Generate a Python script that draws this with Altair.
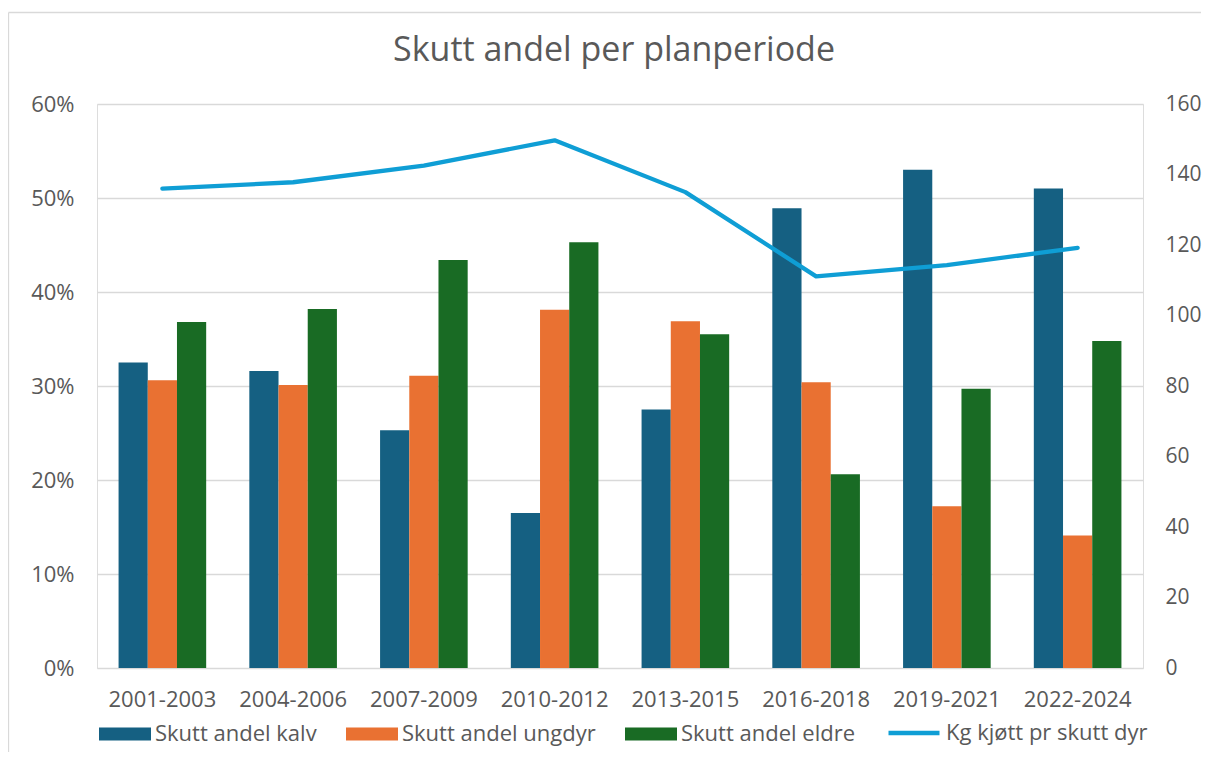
import altair as alt
import pandas as pd

periods = ["2001-2003", "2004-2006", "2007-2009", "2010-2012",
           "2013-2015", "2016-2018", "2019-2021", "2022-2024"]
kalv = [32.5, 31.6, 25.3, 16.5, 27.5, 48.9, 53.0, 51.0]
ungdyr = [30.6, 30.1, 31.1, 38.1, 36.9, 30.4, 17.2, 14.1]
eldre = [36.8, 38.2, 43.4, 45.3, 35.5, 20.6, 29.7, 34.8]
kg_kjott = [136.0, 137.8, 142.5, 149.7, 135.0, 111.1, 114.3, 119.2]

bar_names = ["Skutt andel kalv", "Skutt andel ungdyr", "Skutt andel eldre"]
bar_colors = ["#156082", "#E97132", "#196B24"]
line_name = "Kg kjøtt pr skutt dyr"
line_color = "#0F9ED5"

rows = []
for name, vals in zip(bar_names, [kalv, ungdyr, eldre]):
    for p, v in zip(periods, vals):
        rows.append({"periode": p, "serie": name, "andel": v / 100.0})
bars_df = pd.DataFrame(rows)
line_df = pd.DataFrame({"periode": periods, "kg": kg_kjott, "serie": line_name})

FONT = "Open Sans"
GREY = "#595959"
LBL = 22

x_enc = alt.X(
    "periode:N",
    sort=periods,
    title=None,
    scale=alt.Scale(paddingInner=0.33, paddingOuter=0.165),
    axis=alt.Axis(labelAngle=0, labelFont=FONT, labelFontSize=LBL, labelColor=GREY,
                  labelPadding=21, ticks=False, domain=False, grid=False),
)

bar_legend = alt.Legend(
    title=None, orient="none", legendX=2, legendY=604,
    direction="horizontal", columns=3, columnPadding=29,
    symbolType="M-1,-0.25H1V0.25H-1Z", symbolSize=2704, symbolStrokeWidth=0,
    labelOffset=4, labelFont=FONT, labelFontSize=LBL, labelColor=GREY, labelLimit=400,
)

line_legend = alt.Legend(
    title=None, orient="none", legendX=789, legendY=601,
    direction="horizontal",
    symbolType="stroke", symbolSize=2600, symbolStrokeWidth=4.5,
    labelOffset=4, labelFont=FONT, labelFontSize=LBL, labelColor=GREY, labelLimit=400,
)

frame_df = pd.DataFrame({"b": [0]})
border_left = alt.Chart(frame_df).mark_rule(color="#D9D9D9", strokeWidth=1.3).encode(
    x=alt.value(-88.5), y=alt.value(-91.5), y2=alt.value(648),
)
border_top = alt.Chart(frame_df).mark_rule(color="#D9D9D9", strokeWidth=1.3).encode(
    x=alt.value(-88.5), x2=alt.value(1104), y=alt.value(-91.5),
)

bars = alt.Chart(bars_df).mark_bar().encode(
    x=x_enc,
    xOffset=alt.XOffset("serie:N", sort=bar_names,
                        scale=alt.Scale(paddingInner=0, paddingOuter=0)),
    y=alt.Y("andel:Q", title=None,
            scale=alt.Scale(domain=[0, 0.6], nice=False),
            axis=alt.Axis(values=[0, 0.1, 0.2, 0.3, 0.4, 0.5, 0.6], format=".0%",
                          labelFont=FONT, labelFontSize=LBL, labelColor=GREY,
                          labelPadding=23, ticks=False, domain=False,
                          grid=True, gridColor="#D9D9D9", gridWidth=1.3)),
    color=alt.Color("serie:N", sort=bar_names,
                    scale=alt.Scale(domain=bar_names, range=bar_colors), legend=bar_legend),
)

line = alt.Chart(line_df).mark_line(strokeWidth=4.3, strokeCap="round", strokeJoin="round").encode(
    x=alt.X("periode:N", sort=periods),
    y=alt.Y("kg:Q", title=None,
            scale=alt.Scale(domain=[0, 160], nice=False),
            axis=alt.Axis(orient="right", values=[0, 20, 40, 60, 80, 100, 120, 140, 160],
                          labelFont=FONT, labelFontSize=21, labelColor=GREY,
                          labelPadding=22, ticks=False, domain=False, grid=False)),
    stroke=alt.Stroke("serie:N", scale=alt.Scale(domain=[line_name], range=[line_color]),
                      legend=line_legend),
)

chart = alt.layer(border_left, border_top, bars, line).resolve_scale(y="independent").properties(
    width=1046,
    height=564,
    autosize=alt.AutoSizeParams(type="none"),
    padding={"left": 89, "top": 96, "right": 59, "bottom": 85},
    title=alt.TitleParams("Skutt andel per planperiode", font=FONT, fontSize=34,
                          fontWeight="normal", color=GREY, anchor="middle",
                          frame="group", offset=-56, dx=-6),
).configure_view(stroke=None).configure(background="white")

chart.save("out.html", embed_options={"renderer": "svg", "actions": False})
